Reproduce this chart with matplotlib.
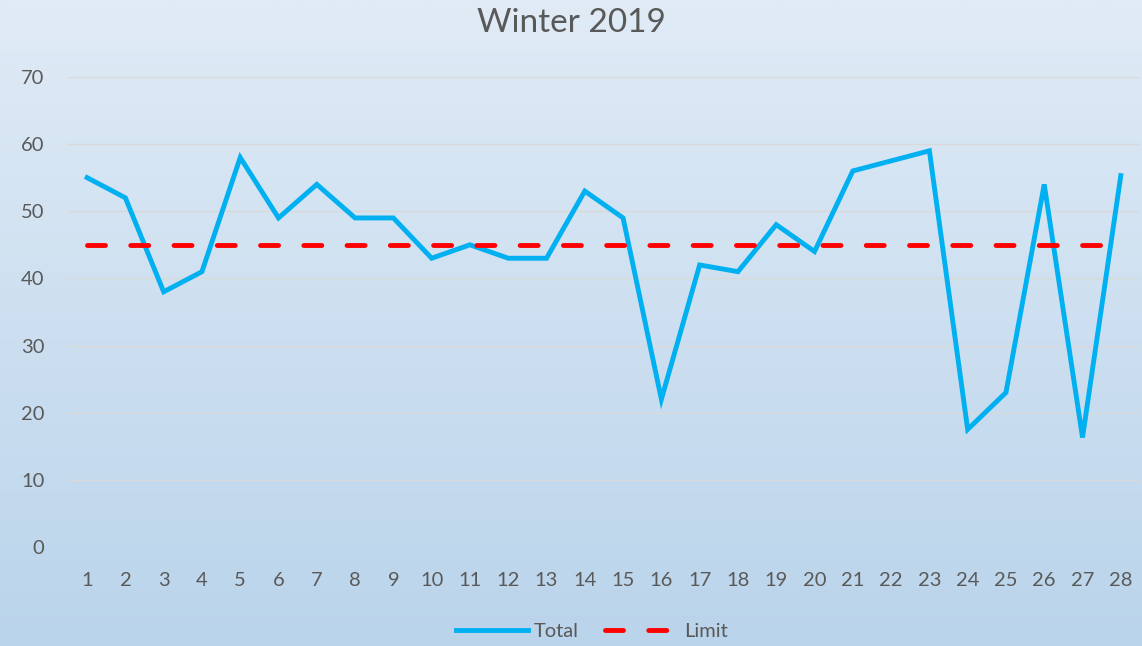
import numpy as np
import matplotlib.pyplot as plt
from matplotlib.colors import LinearSegmentedColormap

days = list(range(1, 29))
total = [55, 52, 38, 41, 58, 49, 54, 49, 49, 43, 45, 43, 43, 53,
         49, 22, 42, 41, 48, 44, 56, 57.5, 59, 17.5, 23, 54, 16.3, 55.3]
limit = [45] * 28

plt.rcParams['font.family'] = ['Lato', 'DejaVu Sans']
grey = '#595959'

fig = plt.figure(figsize=(11.42, 6.46), dpi=100)

# background gradient over the whole figure
bg = fig.add_axes([0, 0, 1, 1], zorder=-1)
cmap = LinearSegmentedColormap.from_list('bg', ['#e0ebf6', '#bad4eb'])
grad = np.linspace(0, 1, 256).reshape(-1, 1)
bg.imshow(grad, aspect='auto', cmap=cmap, extent=[0, 1, 0, 1])
bg.axis('off')

ax = fig.add_axes([0.0595, 0.1533, 0.9387, 0.7276])
ax.patch.set_alpha(0)
ax.plot(days, total, color='#00b0f0', lw=3.5, solid_joinstyle='miter', label='Total')
ax.plot(days, limit, color='#ff0000', lw=3.5, dashes=(3.7, 5.2),
        dash_capstyle='round', label='Limit')

ax.set_xlim(0.5, 28.5)
ax.set_ylim(0, 70)
ax.set_yticks(range(0, 71, 10))
ax.set_xticks(days)
ax.grid(axis='y', color='#d9d9d9', lw=1)
ax.set_axisbelow(True)
for s in ax.spines.values():
    s.set_visible(False)
ax.tick_params(length=0, labelsize=14.5, colors=grey, pad=18)
ax.tick_params(axis='y', pad=17)

fig.text(0.5, 0.964, 'Winter 2019', ha='center', va='center', fontsize=24, color=grey)
fig.legend(loc='center', bbox_to_anchor=(0.518, 0.022), ncol=2, frameon=False,
           fontsize=14.5, labelcolor=grey, handlelength=3.6, columnspacing=1.3,
           handletextpad=0.3)

fig.savefig('out.png', dpi=100)
